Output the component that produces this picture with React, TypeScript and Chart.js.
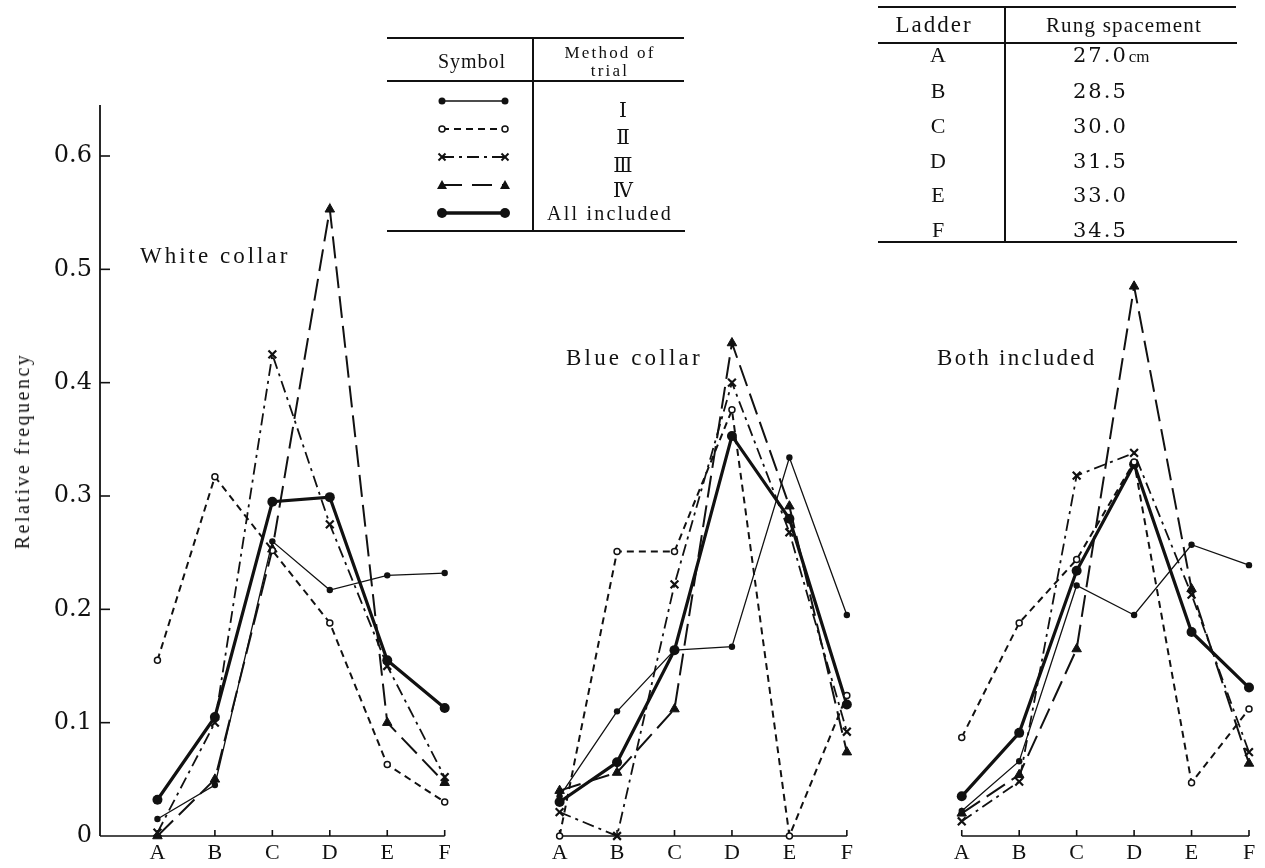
import React, { useEffect, useRef } from 'react';
import { Chart, registerables } from 'chart.js';

Chart.register(...registerables);

// ---------- data ----------
const ladders = ['A', 'B', 'C', 'D', 'E', 'F'];
const rungSpacement = ['27.0', '28.5', '30.0', '31.5', '33.0', '34.5'];
const methods = ['Ⅰ', 'Ⅱ', 'Ⅲ', 'Ⅳ', 'All included'];
const groups = ['White collar', 'Blue collar', 'Both included'];
const yTickValues = [0, 0.1, 0.2, 0.3, 0.4, 0.5, 0.6];

// White collar
const whiteI = [0.015, 0.045, 0.26, 0.217, 0.23, 0.232];
const whiteII = [0.155, 0.317, 0.252, 0.188, 0.063, 0.03];
const whiteIII = [0.003, 0.1, 0.425, 0.275, 0.15, 0.052];
const whiteIV = [0.0, 0.05, 0.253, 0.553, 0.1, 0.047];
const whiteAll = [0.032, 0.105, 0.295, 0.299, 0.155, 0.113];
// Blue collar
const blueI = [0.035, 0.11, 0.164, 0.167, 0.334, 0.195];
const blueII = [0.0, 0.251, 0.251, 0.376, 0.0, 0.124];
const blueIII = [0.021, 0.0, 0.222, 0.4, 0.268, 0.092];
const blueIV = [0.04, 0.056, 0.112, 0.435, 0.291, 0.074];
const blueAll = [0.03, 0.065, 0.164, 0.353, 0.28, 0.116];
// Both included
const bothI = [0.022, 0.066, 0.221, 0.195, 0.257, 0.239];
const bothII = [0.087, 0.188, 0.244, 0.33, 0.047, 0.112];
const bothIII = [0.013, 0.048, 0.318, 0.338, 0.213, 0.074];
const bothIV = [0.02, 0.054, 0.165, 0.485, 0.218, 0.064];
const bothAll = [0.035, 0.091, 0.234, 0.328, 0.18, 0.131];

const seriesByGroup = [
  [whiteI, whiteII, whiteIII, whiteIV, whiteAll],
  [blueI, blueII, blueIII, blueIV, blueAll],
  [bothI, bothII, bothIII, bothIV, bothAll],
];

// ---------- layout / style ----------
const W = 1265;
const H = 868;
const INK = '#111';
const GROUP_STEP = 7; // 6 ladders + 1 empty slot between panels
const groupStarts = groups.map((_, i) => i * GROUP_STEP);

const seriesStyles: any[] = [
  { borderWidth: 1.3, borderDash: [], pointStyle: 'circle', pointRadius: 3.2, pointBackgroundColor: INK, pointBorderWidth: 0 },
  { borderWidth: 2, borderDash: [7, 5], pointStyle: 'circle', pointRadius: 3, pointBackgroundColor: '#fff', pointBorderWidth: 1.5 },
  { borderWidth: 1.8, borderDash: [12, 5, 3, 5], pointStyle: 'crossRot', pointRadius: 5.5, pointBackgroundColor: INK, pointBorderWidth: 2.2 },
  { borderWidth: 2, borderDash: [22, 8], pointStyle: 'triangle', pointRadius: 5.5, pointBackgroundColor: INK, pointBorderWidth: 1 },
  { borderWidth: 3.2, borderDash: [], pointStyle: 'circle', pointRadius: 5, pointBackgroundColor: INK, pointBorderWidth: 0 },
];

const framePlugin = {
  id: 'frame',
  beforeDatasetsDraw(chart: any) {
    const { ctx, chartArea } = chart;
    const x = chart.scales.x;
    const y = chart.scales.y;
    const y0 = y.getPixelForValue(0);
    const line = (x1: number, y1: number, x2: number, y2: number) => {
      ctx.beginPath();
      ctx.moveTo(x1, y1);
      ctx.lineTo(x2, y2);
      ctx.stroke();
    };
    ctx.save();
    ctx.strokeStyle = INK;
    ctx.lineWidth = 1.8;
    ctx.setLineDash([]);
    line(chartArea.left, chartArea.top, chartArea.left, y0);
    ctx.lineWidth = 1.6;
    yTickValues.forEach((v) => {
      if (v === 0) return;
      const py = y.getPixelForValue(v);
      line(chartArea.left, py, chartArea.left + 10, py);
    });
    groupStarts.forEach((s, gi) => {
      const xa = gi === 0 ? chartArea.left : x.getPixelForValue(s);
      const xf = x.getPixelForValue(s + ladders.length - 1);
      line(xa, y0, xf, y0);
      ladders.forEach((_, i) => {
        const px = x.getPixelForValue(s + i);
        line(px, y0, px, y0 - 6);
      });
    });
    ctx.restore();
  },
};

const serif = '"Liberation Serif", "Times New Roman", serif';
const serif2 = '"DejaVu Serif", serif';

function Txt(props: { x: number; y: number; children: any; size: number; font?: string; ls?: number; align?: 'left' | 'center' }) {
  const { x, y, children, size, font = serif, ls = 0, align = 'center' } = props;
  return (
    <div
      style={{
        position: 'absolute',
        left: x,
        top: y,
        transform: align === 'center' ? 'translate(-50%, -50%)' : 'translate(0, -50%)',
        fontFamily: font,
        fontSize: size,
        letterSpacing: ls,
        lineHeight: 1,
        whiteSpace: 'nowrap',
        color: INK,
      }}
    >
      {children}
    </div>
  );
}

function Rule({ x1, y1, x2, y2, w = 1.6 }: { x1: number; y1: number; x2: number; y2: number; w?: number }) {
  const horizontal = y1 === y2;
  return (
    <div
      style={{
        position: 'absolute',
        left: horizontal ? x1 : x1 - w / 2,
        top: horizontal ? y1 - w / 2 : y1,
        width: horizontal ? x2 - x1 : w,
        height: horizontal ? w : y2 - y1,
        background: INK,
      }}
    />
  );
}

function LegendSymbols() {
  const rows = [101, 129, 157, 185, 213];
  const x1 = 442;
  const x2 = 505;
  const dashes = ['', '7 5', '12 5 3 5', '20 10', ''];
  const widths = [1.3, 2, 1.8, 2, 3.4];
  const marker = (i: number, cx: number, cy: number, k: string) => {
    if (i === 0) return <circle key={k} cx={cx} cy={cy} r={3.5} fill={INK} />;
    if (i === 1) return <circle key={k} cx={cx} cy={cy} r={3} fill="#fff" stroke={INK} strokeWidth={1.5} />;
    if (i === 2)
      return (
        <g key={k} stroke={INK} strokeWidth={2}>
          <line x1={cx - 3.5} y1={cy - 3.5} x2={cx + 3.5} y2={cy + 3.5} />
          <line x1={cx - 3.5} y1={cy + 3.5} x2={cx + 3.5} y2={cy - 3.5} />
        </g>
      );
    if (i === 3) return <polygon key={k} points={`${cx},${cy - 5} ${cx + 5},${cy + 4} ${cx - 5},${cy + 4}`} fill={INK} />;
    return <circle key={k} cx={cx} cy={cy} r={5} fill={INK} />;
  };
  return (
    <svg width={W} height={H} style={{ position: 'absolute', left: 0, top: 0, pointerEvents: 'none' }}>
      {rows.map((ry, i) => (
        <g key={i}>
          <line x1={x1} y1={ry} x2={x2} y2={ry} stroke={INK} strokeWidth={widths[i]} strokeDasharray={dashes[i] || undefined} />
          {marker(i, x1, ry, 'a')}
          {marker(i, x2, ry, 'b')}
        </g>
      ))}
    </svg>
  );
}

export default function App() {
  const canvasRef = useRef<HTMLCanvasElement | null>(null);

  useEffect(() => {
    if (!canvasRef.current) return;
    const datasets = methods.map((m, si) => {
      const data: any[] = [];
      groupStarts.forEach((s, gi) => {
        seriesByGroup[gi][si].forEach((v, i) => data.push({ x: s + i, y: v }));
        data.push({ x: s + ladders.length, y: null });
      });
      const st = seriesStyles[si];
      return {
        label: m,
        data,
        borderColor: INK,
        pointBorderColor: INK,
        borderWidth: st.borderWidth,
        borderDash: st.borderDash,
        pointStyle: st.pointStyle,
        pointRadius: st.pointRadius,
        pointBackgroundColor: st.pointBackgroundColor,
        pointBorderWidth: st.pointBorderWidth,
        pointHoverRadius: st.pointRadius,
        tension: 0,
        spanGaps: false,
        fill: false,
        clip: false as any,
      };
    });

    const tickPositions: number[] = [];
    groupStarts.forEach((s) => ladders.forEach((_, i) => tickPositions.push(s + i)));

    const chart = new Chart(canvasRef.current, {
      type: 'line',
      data: { datasets },
      plugins: [framePlugin],
      options: {
        responsive: false,
        animation: false,
        devicePixelRatio: 1,
        events: [],
        layout: { padding: { left: 0, right: 16, top: 105, bottom: 0 } },
        plugins: { legend: { display: false }, tooltip: { enabled: false }, title: { display: false } },
        scales: {
          x: {
            type: 'linear',
            min: -1,
            max: 19,
            grid: { display: false, drawTicks: false },
            border: { display: false },
            afterBuildTicks: (scale: any) => {
              scale.ticks = tickPositions.map((v) => ({ value: v }));
            },
            afterFit: (scale: any) => {
              scale.height = 32;
            },
            ticks: {
              autoSkip: false,
              maxRotation: 0,
              padding: 4,
              color: INK,
              font: { family: serif, size: 22 },
              callback: (v: any) => ladders[Math.round(Number(v)) % GROUP_STEP] ?? '',
            },
          },
          y: {
            type: 'linear',
            min: 0,
            max: 0.645,
            grid: { display: false, drawTicks: false },
            border: { display: false },
            afterBuildTicks: (scale: any) => {
              scale.ticks = yTickValues.map((v) => ({ value: v }));
            },
            afterFit: (scale: any) => {
              scale.width = 100;
            },
            ticks: {
              autoSkip: false,
              padding: 8,
              color: INK,
              font: { family: serif2, size: 24 },
              callback: (v: any) => (Number(v) === 0 ? '0' : Number(v).toFixed(1)),
            },
          },
        },
      } as any,
    });
    return () => chart.destroy();
  }, []);

  const ladderRowsY = [55, 91, 126, 161, 195, 230];
  const methodRowsY = [110, 137, 165, 190, 213];

  return (
    <div style={{ position: 'absolute', left: 0, top: 0, width: W, height: H, background: '#fff', overflow: 'hidden' }}>
      <canvas ref={canvasRef} width={W} height={H} style={{ position: 'absolute', left: 0, top: 0, width: W, height: H }} />

      {/* y axis title */}
      <div
        style={{
          position: 'absolute',
          left: 22,
          top: 451,
          transform: 'translate(-50%, -50%) rotate(-90deg)',
          fontFamily: serif,
          fontSize: 20,
          letterSpacing: 2.5,
          lineHeight: 1,
          whiteSpace: 'nowrap',
          color: INK,
        }}
      >
        Relative frequency
      </div>

      {/* panel titles */}
      <Txt x={140} y={255} size={23} ls={3} align="left">{groups[0]}</Txt>
      <Txt x={566} y={357} size={23} ls={3.2} align="left">{groups[1]}</Txt>
      <Txt x={937} y={357} size={23} ls={2.3} align="left">{groups[2]}</Txt>

      {/* legend table */}
      <Rule x1={387} y1={38} x2={684} y2={38} />
      <Rule x1={387} y1={81} x2={684} y2={81} w={1.3} />
      <Rule x1={387} y1={231} x2={685} y2={231} />
      <Rule x1={533} y1={38} x2={533} y2={231} w={1.4} />
      <Txt x={472} y={61} size={20} ls={1}>Symbol</Txt>
      <Txt x={610} y={52} size={17} ls={2.2}>Method of</Txt>
      <Txt x={610} y={70} size={17} ls={2.2}>trial</Txt>
      {methods.map((m, i) => (
        <Txt key={m} x={i === 4 ? 610 : 623} y={methodRowsY[i]} size={i === 4 ? 20 : 20} ls={i === 4 ? 2.2 : 0} font={i === 4 ? serif : serif2}>
          {m}
        </Txt>
      ))}
      <LegendSymbols />

      {/* ladder table */}
      <Rule x1={878} y1={7} x2={1236} y2={7} />
      <Rule x1={878} y1={43} x2={1237} y2={43} w={1.3} />
      <Rule x1={878} y1={242} x2={1237} y2={242} />
      <Rule x1={1005} y1={7} x2={1005} y2={242} w={1.4} />
      <Txt x={934} y={24} size={23} ls={2}>Ladder</Txt>
      <Txt x={1124} y={25} size={21} ls={1.2}>Rung spacement</Txt>
      {ladders.map((l, i) => (
        <React.Fragment key={l}>
          <Txt x={938} y={ladderRowsY[i]} size={22}>{l}</Txt>
          <Txt x={1073} y={ladderRowsY[i]} size={21} font={serif2} ls={2} align="left">
            {rungSpacement[i]}
            {i === 0 ? <span style={{ fontFamily: serif, fontSize: 17, letterSpacing: 0, marginLeft: 1 }}>cm</span> : null}
          </Txt>
        </React.Fragment>
      ))}
    </div>
  );
}
